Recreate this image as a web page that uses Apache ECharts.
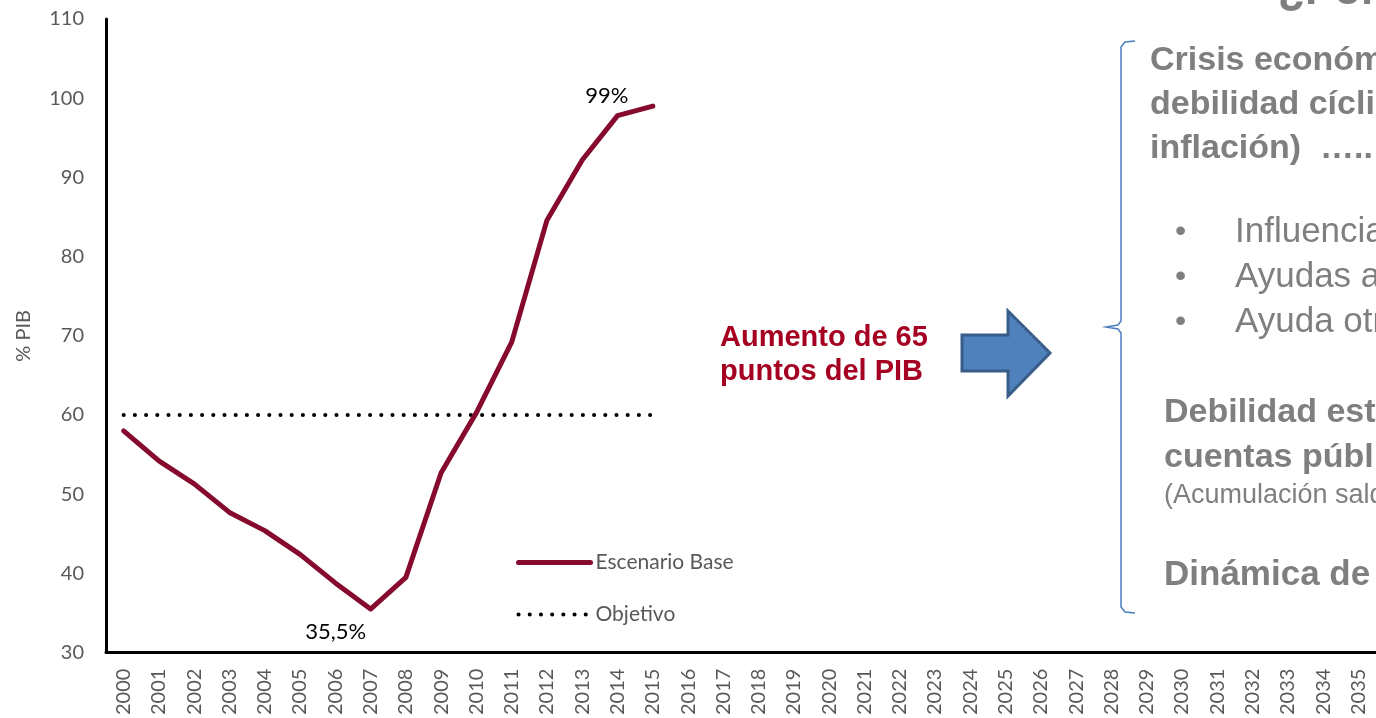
<!DOCTYPE html>
<html>
<head>
<meta charset="utf-8">
<script src="https://cdn.jsdelivr.net/npm/echarts@6/dist/echarts.min.js"></script>
<style>
  html, body { margin: 0; padding: 0; background: #fff; }
  #chart { width: 1376px; height: 718px; }
</style>
</head>
<body>
<div id="chart"></div>
<script>
// years on the axis
const years = []
for (let y = 2000; y <= 2035; y++) years.push(String(y))

// deuda publica % PIB (escenario base)
const escenarioBase = [58.0, 54.2, 51.3, 47.7, 45.4, 42.4, 38.8, 35.5, 39.5, 52.7, 60.3, 69.2, 84.6, 92.2, 97.8, 99.0]
// objetivo 60%
const objetivo = [60, 60, 60, 60, 60, 60, 60, 60, 60, 60, 60, 60, 60, 60, 60, 60]
// points with a value label
const labelledPoints = { 7: [-35, 6], 15: [-46, 6] }

const gray = '#595959'
const textGray = '#7f7f7f'
const font = 'Lato'

let dom = echarts.init(document.getElementById('chart'))

let baseData = escenarioBase.map((v, i) => {
  if (!labelledPoints[i]) return v
  return {
    value: v,
    symbol: 'circle',
    symbolSize: 1,
    label: {
      show: true,
      position: i === 7 ? 'bottom' : 'top',
      offset: labelledPoints[i],
      formatter: p => String(p.value).replace('.', ',') + '%',
      color: '#000',
      fontFamily: font,
      fontSize: 22
    }
  }
})

let option = {
  animation: false,
  grid: { left: 106, top: 19, bottom: 65, width: 1280 },
  legend: {
    orient: 'vertical',
    left: 511,
    top: 547,
    itemWidth: 72,
    itemHeight: 20,
    itemGap: 31,
    itemStyle: { opacity: 0 },
    lineStyle: { width: 'inherit' },
    textStyle: { color: gray, fontFamily: font, fontSize: 21 },
    data: ['Escenario Base', 'Objetivo']
  },
  xAxis: {
    type: 'category',
    data: years,
    axisLine: { lineStyle: { color: '#000', width: 3 } },
    axisTick: { show: false },
    axisLabel: { rotate: 90, color: gray, fontFamily: font, fontSize: 20, margin: 16, interval: 0 }
  },
  yAxis: {
    type: 'value',
    min: 30,
    max: 110,
    interval: 10,
    name: '% PIB',
    nameLocation: 'middle',
    nameRotate: 90,
    nameGap: 72,
    nameTextStyle: { color: gray, fontFamily: font, fontSize: 20 },
    axisLine: { show: true, lineStyle: { color: '#000', width: 3 } },
    axisTick: { show: false },
    splitLine: { show: false },
    axisLabel: { color: gray, fontFamily: font, fontSize: 20, margin: 22 }
  },
  series: [
    {
      name: 'Escenario Base',
      type: 'line',
      data: baseData,
      symbol: 'none',
      color: '#860a2e',
      lineStyle: { width: 5, color: '#860a2e', cap: 'round', join: 'round' },
      z: 3
    },
    {
      name: 'Objetivo',
      type: 'line',
      data: objetivo,
      symbol: 'none',
      color: '#000',
      lineStyle: { width: 4, color: '#000', type: [0.1, 11.1], cap: 'round' },
      z: 2
    }
  ],
  graphic: [
    {
      type: 'text', x: 720, y: 321,
      style: {
        text: 'Aumento de 65\npuntos del PIB', fill: '#a50021',
        font: 'bold 29px "Liberation Sans"', lineHeight: 34
      }
    },
    {
      type: 'polygon',
      shape: { points: [[962, 335], [1008, 335], [1008, 311], [1050, 353], [1008, 396], [1008, 371], [962, 371]] },
      style: { fill: '#4f81bd', stroke: '#385d8a', lineWidth: 3 }
    },
    {
      type: 'polyline',
      shape: {
        points: [[1135, 41], [1125, 42], [1121, 47], [1121, 321], [1118, 325], [1106, 327], [1118, 329], [1121, 333], [1121, 607], [1125, 612], [1135, 613]]
      },
      style: { fill: null, stroke: '#4a7ebb', lineWidth: 1.5 }
    },
    {
      type: 'text', x: 1278, y: -30,
      style: { text: '¿Por qué?', fill: textGray, font: 'bold 44px "Liberation Sans"' }
    },
    {
      type: 'text', x: 1150, y: 39,
      style: {
        text: 'Crisis económica (recesión,\ndebilidad cíclica y baja\ninflación)  …..', fill: textGray,
        font: 'bold 34px "Liberation Sans"', lineHeight: 44
      }
    },
    {
      type: 'text', x: 1175, y: 210,
      style: { text: '•\n•\n•', fill: textGray, font: '32px "Liberation Sans"', lineHeight: 45 }
    },
    {
      type: 'text', x: 1235, y: 210,
      style: {
        text: 'Influencia de la crisis\nAyudas al sector financiero\nAyuda otros países', fill: textGray,
        font: '35px "Liberation Sans"', lineHeight: 45
      }
    },
    {
      type: 'text', x: 1164, y: 390,
      style: {
        text: 'Debilidad estructural de las\ncuentas públicas', fill: textGray,
        font: 'bold 34px "Liberation Sans"', lineHeight: 45
      }
    },
    {
      type: 'text', x: 1164, y: 481,
      style: { text: '(Acumulación saldos negativos)', fill: textGray, font: '27px "Liberation Sans"', lineHeight: 30 }
    },
    {
      type: 'text', x: 1164, y: 553,
      style: { text: 'Dinámica de la deuda', fill: textGray, font: 'bold 35px "Liberation Sans"', lineHeight: 44 }
    }
  ]
}

dom.setOption(option)
</script>
</body>
</html>
